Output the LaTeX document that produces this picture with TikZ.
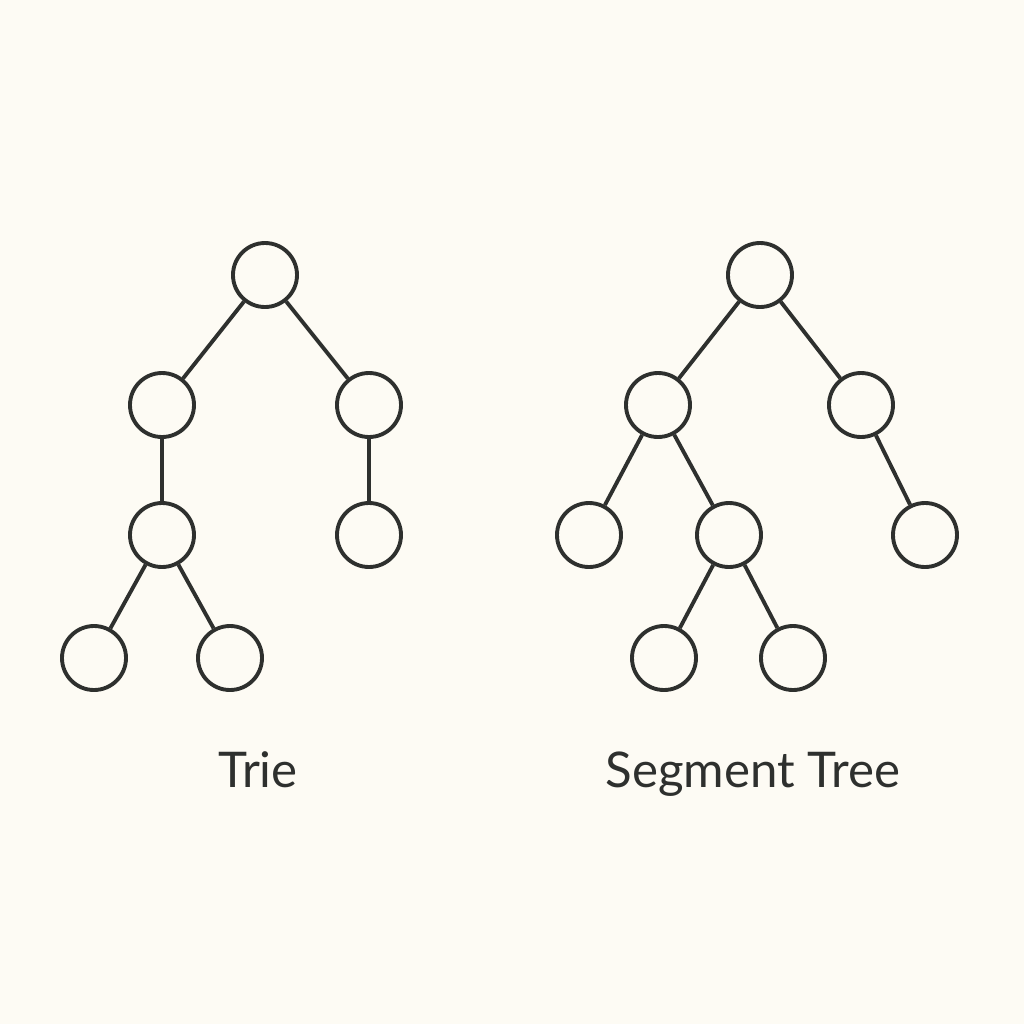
\documentclass[tikz,border=0pt]{standalone}
\usepackage{fontspec}
\setmainfont{Lato}
\usetikzlibrary{positioning}
\definecolor{paper}{HTML}{FDFBF4}
\definecolor{ink}{HTML}{2E302E}
\tikzset{tnode/.style={circle,draw=ink,line width=1.1pt,inner sep=0pt,minimum size=6.4mm},
	 tedge/.style={draw=ink,line width=1.1pt},
	 tlabel/.style={text=ink,font=\fontsize{14}{16}\selectfont,anchor=base},
	 on grid
	 }

\begin{document}
\begin{tikzpicture}
        \fill[paper] (0,0) rectangle (10.24,-10.24);
        \useasboundingbox (0,0) rectangle (10.24,-10.24);
        % Trie
        \node[tnode] (t) at (2.65,-2.75) {};
        \node[tnode] (tl) [below left=1.3 and 1.03 of t] {};
        \node[tnode] (tr) [below right=1.3 and 1.04 of t] {};
        \node[tnode] (tll) [below=1.3 of tl] {};
        \node[tnode] (trl) [below=1.3 of tr] {};
        \node[tnode] (tlll) [below left=1.23 and 0.68 of tll] {};
        \node[tnode] (tllr) [below right=1.23 and 0.68 of tll] {};
        \draw[tedge] (t) to (tl) to (tll) to (tlll);
        \draw[tedge] (tll) to (tllr);
        \draw[tedge] (t) to (tr) to (trl);
        \node[tlabel] (trie) at (2.58,-7.87) {Trie};
        % Segment Tree
        \node[tnode] (s) at (7.6,-2.75) {};
        \node[tnode] (sl) [below left=1.3 and 1.02 of s] {};
        \node[tnode] (sr) [below right=1.3 and 1.01 of s] {};
        \node[tnode] (sll) [below left=1.3 and 0.69 of sl] {};
        \node[tnode] (slr) [below right=1.3 and 0.71 of sl] {};
        \node[tnode] (srr) [below right=1.3 and 0.64 of sr] {};
        \node[tnode] (slrl) [below left=1.23 and 0.65 of slr] {};
        \node[tnode] (slrr) [below right=1.23 and 0.64 of slr] {};
        \draw[tedge] (s) to (sl) to (sll);
        \draw[tedge] (sl) to (slr) to (slrl);
        \draw[tedge] (slr) to (slrr);
        \draw[tedge] (s) to (sr) to (srr);
        \node[tlabel] (seg) at (7.53,-7.87) {Segment Tree};
\end{tikzpicture}
\end{document}
